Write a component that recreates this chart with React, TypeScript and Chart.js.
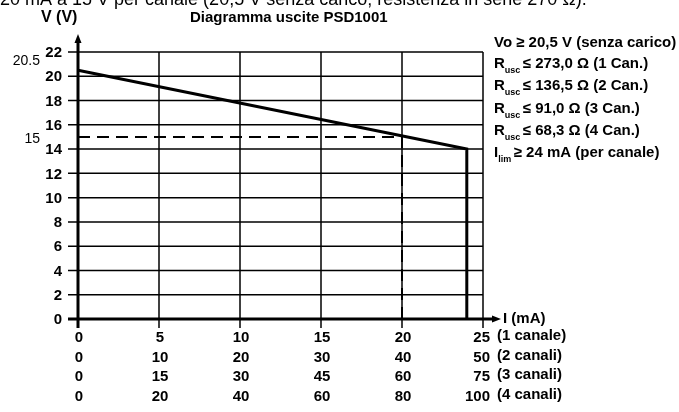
import { useEffect, useRef } from 'react';
import { Chart, registerables } from 'chart.js';

Chart.register(...registerables);

// ---- data ----
const yTicks = [0, 2, 4, 6, 8, 10, 12, 14, 16, 18, 20, 22];
const xTicks = [0, 5, 10, 15, 20, 25];
const xRow1 = ['0', '5', '10', '15', '20', '25'];
const xRow2 = ['0', '10', '20', '30', '40', '50'];
const xRow3 = ['0', '15', '30', '45', '60', '75'];
const xRow4 = ['0', '20', '40', '60', '80', '100'];
const rowNames = ['(1 canale)', '(2 canali)', '(3 canali)', '(4 canali)'];
const curveX = [0, 24, 24];
const curveY = [20.5, 14, 0];
const refX = [0, 20, 20];
const refY = [15, 15, 0];
const markValues = [20.5, 15];
const markLabels = ['20.5', '15'];
const rValues = ['≤ 273,0 Ω (1 Can.)', '≤ 136,5 Ω (2 Can.)', '≤ 91,0 Ω (3 Can.)', '≤ 68,3 Ω (4 Can.)'];
const voNote = 'Vo ≥ 20,5 V (senza carico)';
const iNote = '≥ 24 mA (per canale)';
const topLine = '20 mA a 15 V per canale (20,5 V senza carico; resistenza in serie 270 Ω).';
const title = 'Diagramma uscite PSD1001';
const yTitle = 'V (V)';
const xTitle = 'I (mA)';

const FONT = '"Liberation Sans", Arial, sans-serif';

const decorPlugin = {
  id: 'decor',
  beforeDatasetsDraw(chart: any) {
    const { ctx, scales } = chart;
    const xs = scales.x;
    const ys = scales.y;
    const x0 = xs.getPixelForValue(0);
    const xMax = xs.getPixelForValue(25);
    const y0 = ys.getPixelForValue(0);
    const yTop = ys.getPixelForValue(22);
    ctx.save();
    ctx.strokeStyle = '#000';
    ctx.lineWidth = 1.5;
    yTicks.forEach((v) => {
      if (v === 0) return;
      const y = ys.getPixelForValue(v);
      ctx.beginPath();
      ctx.moveTo(x0 - 10, y);
      ctx.lineTo(xMax, y);
      ctx.stroke();
    });
    xTicks.forEach((v) => {
      if (v === 0) return;
      const x = xs.getPixelForValue(v);
      ctx.beginPath();
      ctx.moveTo(x, yTop);
      ctx.lineTo(x, y0 + 9);
      ctx.stroke();
    });
    // axes
    ctx.lineWidth = 3;
    ctx.beginPath();
    ctx.moveTo(x0, y0 + 9);
    ctx.lineTo(x0, yTop - 12);
    ctx.stroke();
    ctx.beginPath();
    ctx.moveTo(x0 - 10, y0);
    ctx.lineTo(xMax + 12, y0);
    ctx.stroke();
    ctx.fillStyle = '#000';
    ctx.beginPath();
    ctx.moveTo(x0, yTop - 18);
    ctx.lineTo(x0 - 3.5, yTop - 9);
    ctx.lineTo(x0 + 3.5, yTop - 9);
    ctx.closePath();
    ctx.fill();
    ctx.beginPath();
    ctx.moveTo(xMax + 18, y0);
    ctx.lineTo(xMax + 9, y0 - 3.5);
    ctx.lineTo(xMax + 9, y0 + 3.5);
    ctx.closePath();
    ctx.fill();
    ctx.restore();
  },
  afterDatasetsDraw(chart: any) {
    const { ctx, scales } = chart;
    const xs = scales.x;
    const ys = scales.y;
    const x0 = xs.getPixelForValue(0);
    const xMax = xs.getPixelForValue(25);
    const y0 = ys.getPixelForValue(0);
    ctx.save();
    ctx.fillStyle = '#000';
    ctx.textBaseline = 'middle';
    // y tick labels
    ctx.font = `bold 15px ${FONT}`;
    ctx.textAlign = 'right';
    yTicks.forEach((v) => {
      ctx.fillText(String(v), x0 - 16, ys.getPixelForValue(v) + 1);
    });
    // marks
    ctx.font = `14px ${FONT}`;
    ctx.textAlign = 'right';
    markLabels.forEach((l, i) => {
      const y = ys.getPixelForValue(markValues[i]);
      ctx.fillText(l, 40, y + (i === 0 ? -9 : 2));
    });
    // x tick rows
    ctx.font = `bold 15px ${FONT}`;
    const rows = [xRow1, xRow2, xRow3, xRow4];
    const rowY = [y0 + 19, y0 + 38.5, y0 + 58, y0 + 77.5];
    rows.forEach((row, r) => {
      row.forEach((lab, i) => {
        const x = xs.getPixelForValue(xTicks[i]);
        if (i === row.length - 1) {
          ctx.textAlign = 'right';
          ctx.fillText(lab, xMax + 7, rowY[r]);
        } else {
          ctx.textAlign = 'center';
          ctx.fillText(lab, x + 1, rowY[r]);
        }
      });
      ctx.textAlign = 'left';
      ctx.fillText(rowNames[r], xMax + 14, rowY[r] - 2);
    });
    ctx.textAlign = 'left';
    ctx.fillText(xTitle, xMax + 20, y0);
    // titles
    ctx.font = `bold 16px ${FONT}`;
    ctx.fillText(yTitle, 41, 18);
    ctx.font = `bold 15px ${FONT}`;
    ctx.fillText(title, 190, 18);
    ctx.font = `18px ${FONT}`;
    ctx.textBaseline = 'alphabetic';
    ctx.fillText(topLine, 0, 5);
    // notes
    const nx = 494;
    ctx.textBaseline = 'middle';
    ctx.font = `bold 15px ${FONT}`;
    ctx.fillText(voNote, nx, 42.5);
    const lineYs = [63.5, 86, 108.5, 131];
    rValues.forEach((t, i) => {
      const y = lineYs[i];
      ctx.font = `bold 15px ${FONT}`;
      ctx.fillText('R', nx, y);
      const rw = ctx.measureText('R').width;
      ctx.font = `bold 9px ${FONT}`;
      ctx.fillText('usc', nx + rw, y + 7);
      const sw = ctx.measureText('usc ').width;
      ctx.font = `bold 15px ${FONT}`;
      ctx.fillText(t, nx + rw + sw, y);
    });
    {
      const y = 153;
      ctx.font = `bold 15px ${FONT}`;
      ctx.fillText('I', nx, y);
      const iw = ctx.measureText('I').width;
      ctx.font = `bold 9px ${FONT}`;
      ctx.fillText('lim', nx + iw, y + 7);
      const sw = ctx.measureText('lim ').width;
      ctx.font = `bold 15px ${FONT}`;
      ctx.fillText(iNote, nx + iw + sw, y);
    }
    ctx.restore();
  },
};

export default function App() {
  const ref = useRef<HTMLCanvasElement | null>(null);
  useEffect(() => {
    if (!ref.current) return;
    const chart = new Chart(ref.current, {
      type: 'scatter',
      data: {
        datasets: [
          {
            label: 'Uscita',
            data: curveX.map((x, i) => ({ x, y: curveY[i] })),
            showLine: true,
            borderColor: '#000',
            borderWidth: 3,
            pointRadius: 0,
            clip: false,
          } as any,
          {
            label: 'Riferimento',
            data: refX.map((x, i) => ({ x, y: refY[i] })),
            showLine: true,
            borderColor: '#000',
            borderWidth: 2,
            borderDash: [12, 7],
            pointRadius: 0,
            clip: false,
          } as any,
        ],
      },
      options: {
        animation: false,
        responsive: true,
        maintainAspectRatio: false,
        layout: { padding: { left: 78, right: 196, top: 52, bottom: 93 } },
        plugins: { legend: { display: false }, tooltip: { enabled: false }, title: { display: false } },
        scales: {
          x: { type: 'linear', min: 0, max: 25, display: false },
          y: { type: 'linear', min: 0, max: 22, display: false },
        },
      },
      plugins: [decorPlugin],
    });
    return () => chart.destroy();
  }, []);
  return (
    <div style={{ position: 'absolute', left: 0, top: 0, width: 679, height: 412, background: '#fff' }}>
      <canvas ref={ref} />
    </div>
  );
}
